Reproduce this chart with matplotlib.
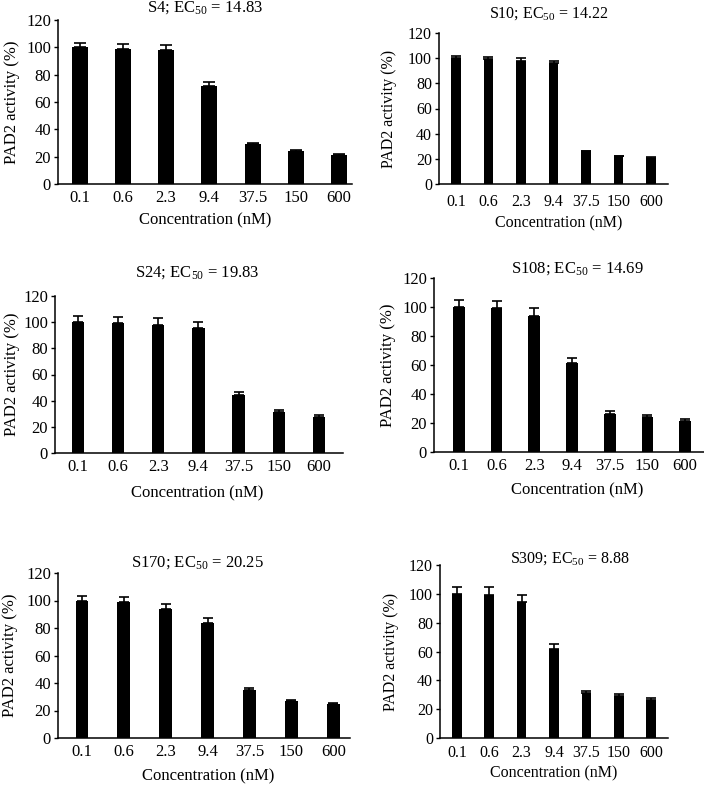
import numpy as np
import matplotlib
matplotlib.use("Agg")
import matplotlib.pyplot as plt

plt.rcParams['font.family'] = ['Liberation Serif', 'DejaVu Serif']
plt.rcParams['mathtext.fontset'] = 'custom'
plt.rcParams['mathtext.rm'] = 'Liberation Serif'
plt.rcParams['mathtext.it'] = 'Liberation Serif:italic'

#-------------DATA---------------
concentrations = ['0.1', '0.6', '2.3', '9.4', '37.5', '150', '600']
compounds = ['S4', 'S10', 'S24', 'S108', 'S170', 'S309']
ec50 = ['14.83', '14.22', '19.83', '14.69', '20.25', '8.88']

s4_vals = [100, 99, 98, 72, 29, 24, 21]
s4_err = [3.5, 3.5, 3.5, 3, 1, 1, 1]
s10_vals = [100, 99, 98, 96, 26, 22, 21]
s10_err = [2, 2, 2, 2, 0.5, 0.5, 0.5]
s24_vals = [100, 99, 98, 95.5, 44, 31.5, 27.5]
s24_err = [5, 5, 5, 5, 2.5, 1.5, 1.5]
s108_vals = [100, 99, 94, 61.5, 26.5, 24, 21.5]
s108_err = [5, 5, 5, 3.5, 1.5, 1.5, 1]
s170_vals = [100, 99, 93.5, 84, 35, 27, 24.5]
s170_err = [3.5, 3.5, 4, 3.5, 1.5, 1, 1]
s309_vals = [100, 99.5, 94.5, 61.5, 31, 29, 26.5]
s309_err = [5, 5, 5, 3.5, 1.5, 1.5, 1.5]

values = [s4_vals, s10_vals, s24_vals, s108_vals, s170_vals, s309_vals]
errors = [s4_err, s10_err, s24_err, s108_err, s170_err, s309_err]

#-------------LAYOUT (pixels)---------------
W, H = 704, 785
# left, right, top(120), bottom(0), xlim pad left, right
boxes = [(58, 352, 20, 184, 0.5, 0.3),
         (439, 668, 33, 184, 0.52, 0.52),
         (55, 343, 296, 453, 0.57, 0.6),
         (434, 704, 278, 452, 0.66, 0.5),
         (58, 350, 573, 738, 0.57, 0.4),
         (440, 668, 565, 738, 0.52, 0.52)]
# title (x, y), ylabel x, xlabel (x, y), font size, xtick pad
text_pos = [((205, 8), 12, (205, 220), 12, 4),
            ((549, 14), 389, (559, 223), 11.5, 7),
            ((197, 273), 12, (197, 493), 12, 4),
            ((577, 269), 388, (577, 490), 12, 4),
            ((197, 563), 10, (208, 776), 12, 4),
            ((570, 559), 391, (554, 773), 11.5, 5)]
bar_widths = [0.37, 0.3, 0.31, 0.31, 0.3, 0.3]

fig = plt.figure(figsize=(W / 100, H / 100), dpi=100)

def fx(px):
    return px / W

def fy(py):
    return 1 - py / H

for i in range(6):
    l, r, t, b, pl, pr = boxes[i]
    ax = fig.add_axes([fx(l), fy(b), fx(r) - fx(l), fy(t) - fy(b)])
    x = np.arange(len(concentrations))
    vals = values[i]
    err = errors[i]
    ax.bar(x, vals, width=bar_widths[i], color='black')
    ax.errorbar(x, vals, yerr=[np.zeros(len(err)), err], fmt='none',
                ecolor='black', elinewidth=1.2, capsize=bar_widths[i] * 12, capthick=1.2)
    ax.set_xlim(-pl, len(concentrations) - 1 + pr)
    ax.set_ylim(0, 120)
    ax.set_yticks([0, 20, 40, 60, 80, 100, 120])
    ax.set_xticks(x)
    (tx, ty), ylx, (xlx, xly), fs, xpad = text_pos[i]
    ax.set_xticklabels(concentrations, fontsize=fs)
    ax.tick_params(axis='y', labelsize=fs, length=3, width=1, pad=2)
    ax.tick_params(axis='x', length=0, pad=xpad)
    ax.spines['top'].set_visible(False)
    ax.spines['right'].set_visible(False)
    ax.spines['left'].set_linewidth(1.1)
    ax.spines['bottom'].set_linewidth(1.1)

    fig.text(fx(tx), fy(ty), compounds[i] + r'; EC$_{\mathrm{50}}$ = ' + ec50[i],
             ha='center', va='center', fontsize=fs)
    fig.text(fx(ylx), fy((t + b) / 2), 'PAD2 activity (%)', rotation=90,
             ha='center', va='center', fontsize=fs)
    fig.text(fx(xlx), fy(xly), 'Concentration (nM)', ha='center', va='center', fontsize=fs)

fig.savefig('out.png', dpi=100)
